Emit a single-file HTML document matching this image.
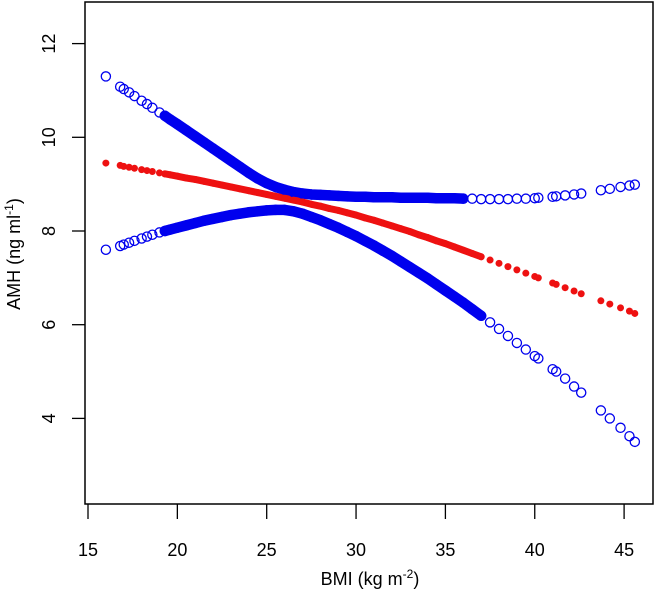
<!DOCTYPE html>
<html><head><meta charset="utf-8"><style>
body{margin:0;background:#fff}
svg text{font-family:"Liberation Sans",Arial,sans-serif;fill:#000}
</style></head><body>
<svg id="chart" width="658" height="599" xmlns="http://www.w3.org/2000/svg">
<rect x="85" y="2" width="568" height="502" fill="none" stroke="#000" stroke-width="1.5"/>
<g id="xaxis"></g>
<g id="yaxis"></g>
<g id="marks"></g>
<text x="370" y="585" font-size="18" text-anchor="middle">BMI (kg m<tspan font-size="12" dy="-7">-2</tspan><tspan dy="7">)</tspan></text>
<text transform="translate(20,254) rotate(-90)" font-size="18" text-anchor="middle">AMH (ng ml<tspan font-size="12" dy="-7">-1</tspan><tspan dy="7">)</tspan></text>
</svg>
<script>
const bmi=[16,16.8,17.0,17.3,17.6,18.0,18.3,18.6,19.0,19.3,19.6,20.0,20.5,21,21.5,22,22.5,23,23.5,24,24.5,25,25.5,26,26.5,27,27.5,28,28.5,29,29.5,30,30.5,31,31.5,32,32.5,33,33.5,34,34.5,35,35.5,36,36.5,37,37.5,38,38.5,39,39.5,40,40.2,41,41.2,41.7,42.2,42.6,43.7,44.2,44.8,45.3,45.6];
const upper=[11.3,11.08,11.03,10.96,10.88,10.78,10.71,10.63,10.53,10.46,10.38,10.28,10.15,10.02,9.89,9.76,9.63,9.5,9.37,9.24,9.12,9.02,8.94,8.88,8.83,8.8,8.78,8.77,8.76,8.75,8.74,8.73,8.73,8.72,8.72,8.72,8.71,8.71,8.71,8.71,8.7,8.7,8.7,8.69,8.69,8.68,8.68,8.68,8.68,8.69,8.69,8.7,8.71,8.73,8.74,8.76,8.78,8.8,8.87,8.9,8.94,8.97,8.99];
const lower=[7.6,7.68,7.71,7.75,7.79,7.84,7.88,7.92,7.97,8.0,8.03,8.07,8.12,8.17,8.22,8.26,8.3,8.34,8.37,8.4,8.42,8.44,8.45,8.45,8.42,8.37,8.3,8.23,8.15,8.07,7.98,7.89,7.79,7.69,7.58,7.47,7.35,7.23,7.11,6.99,6.86,6.73,6.6,6.47,6.33,6.19,6.05,5.91,5.76,5.61,5.47,5.33,5.28,5.05,5.0,4.85,4.68,4.55,4.17,4.0,3.8,3.62,3.5];
const fit=[9.45,9.4,9.38,9.36,9.34,9.31,9.29,9.27,9.24,9.22,9.2,9.17,9.13,9.1,9.06,9.02,8.98,8.94,8.9,8.86,8.82,8.78,8.74,8.7,8.66,8.62,8.57,8.53,8.48,8.44,8.39,8.34,8.28,8.23,8.17,8.11,8.05,7.99,7.92,7.86,7.79,7.73,7.66,7.59,7.52,7.45,7.38,7.31,7.24,7.17,7.1,7.03,7.0,6.89,6.86,6.79,6.72,6.66,6.51,6.44,6.36,6.29,6.24];
const xTicks=[15,20,25,30,35,40,45];
const yTicks=[4,6,8,10,12];
const denseFrom=19.3, upperDenseTo=36, lowerDenseTo=37, fitDenseTo=37;
const NS="http://www.w3.org/2000/svg";
function sx(v){return 88+(v-15)*17.87;}
function sy(v){return 231-(v-8)*46.85;}
function mk(t,a,p){const e=document.createElementNS(NS,t);for(const k in a)e.setAttribute(k,a[k]);p.appendChild(e);return e;}
const xa=document.getElementById('xaxis'),ya=document.getElementById('yaxis'),mg=document.getElementById('marks');
xTicks.forEach(t=>{
 const l=mk('line',{x1:sx(t),x2:sx(t),y1:504,y2:519,stroke:'#000','stroke-width':1.3},xa);
 
 
 const tx=mk('text',{x:sx(t),y:556,'font-size':18,'text-anchor':'middle'},xa);tx.textContent=t;
 
 
});
yTicks.forEach(t=>{
 const l=mk('line',{x1:72,x2:85,y1:sy(t),y2:sy(t),stroke:'#000','stroke-width':1.3},ya);
 
 
 const tx=mk('text',{transform:`translate(55,${sy(t)}) rotate(-90)`,'font-size':18,'text-anchor':'middle'},ya);tx.textContent=t;
 
 
});
function band(ys,to,w,col,name){
 const pts=[];bmi.forEach((b,i)=>{if(b>=denseFrom&&b<=to)pts.push(sx(b)+','+sy(ys[i]));});
 const p=mk('polyline',{points:pts.join(' '),fill:'none',stroke:col,'stroke-width':w,'stroke-linejoin':'round','stroke-linecap':'round'},mg);
 
 
}
band(upper,upperDenseTo,10.5,'#0000ee','upper-ci-band');
band(lower,lowerDenseTo,10.5,'#0000ee','lower-ci-band');
band(fit,fitDenseTo,7,'#ee1111','fit-band');
bmi.forEach((b,i)=>{
 const u=mk('circle',{cx:sx(b),cy:sy(upper[i]),r:4.6,fill:'none',stroke:'#0000ee','stroke-width':1.3},mg);
 
 
 const lo=mk('circle',{cx:sx(b),cy:sy(lower[i]),r:4.6,fill:'none',stroke:'#0000ee','stroke-width':1.3},mg);
 
 
 const f=mk('circle',{cx:sx(b),cy:sy(fit[i]),r:3.5,fill:'#ee1111'},mg);
 
 
});
</script>
</body></html>
